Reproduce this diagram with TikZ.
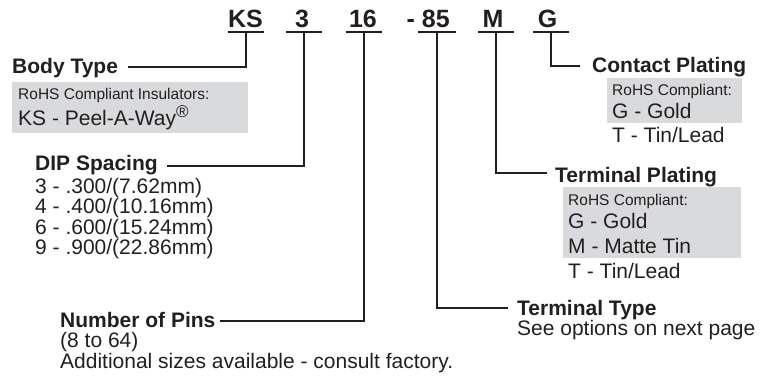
\documentclass[tikz,border=0pt]{standalone}
\usepackage{fontspec}
\setmainfont{Liberation Sans}
\definecolor{ink}{RGB}{35,31,32}
\definecolor{boxgray}{RGB}{217,218,220}
\begin{document}
\begin{tikzpicture}[x=1pt,y=-1pt,
  every node/.style={text=ink},
  conn/.style={draw=ink,line width=1.1pt},
  uline/.style={rectangle,minimum width=35pt,minimum height=0pt,inner sep=0pt,draw=none},
  code/.style={anchor=base,inner sep=0pt,font=\bfseries\fontsize{25}{25}\selectfont},
  lab/.style={anchor=base west,inner sep=0pt,font=\bfseries\fontsize{21}{21}\selectfont},
  txt/.style={anchor=base west,inner sep=0pt,font=\fontsize{21}{21}\selectfont},
  small/.style={anchor=base west,inner sep=0pt,font=\fontsize{15.5}{15.5}\selectfont},
  graybox/.style={fill=boxgray,draw=none}
]
\useasboundingbox (0,0) rectangle (763,378);

% gray boxes
\fill[graybox] (12,82) rectangle (248,133);
\fill[graybox] (607,78) rectangle (742,123);
\fill[graybox] (563,187) rectangle (741,258);

% part number codes
\node[code] (cks) at (245.5,27) {KS};
\node[code] (c3) at (302,27) {3};
\node[code] (c16) at (363,27) {16};
\node[code,anchor=base east] (c85) at (450,27) {- 85};
\node[code] (cm) at (493,27) {M};
\node[code] (cg) at (547.5,27) {G};

% underlines
\node[uline] (uks) at (246,32) {};
\node[uline] (u3) at (304,32) {};
\node[uline] (u16) at (364,32) {};
\node[uline,minimum width=38pt] (u85) at (437,32) {};
\node[uline] (um) at (496,32) {};
\node[uline] (ug) at (551,32) {};
\foreach \u in {uks,u3,u16,u85,um,ug}{\draw[conn] (\u.west) -- (\u.east);}

% connector ends
\coordinate (ebt) at (128,67);
\coordinate (edip) at (167,166);
\coordinate (epins) at (220,321);
\coordinate (ett) at (508,308);
\coordinate (etp) at (547,173);
\coordinate (ecp) at (580,66);

\draw[conn] (uks.center) |- (ebt);
\draw[conn] (u3.center) |- (edip);
\draw[conn] (u16.center) |- (epins);
\draw[conn] (u85.center) |- (ett);
\draw[conn] (um.center) |- (etp);
\draw[conn] (ug.center) |- (ecp);

% Body Type
\node[lab] (bt) at (12,73) {Body Type};
\node[small] (bt1) at (18,99) {RoHS Compliant Insulators:};
\node[txt] (bt2) at (18,125) {KS - Peel-A-Way{\fontsize{17}{17}\selectfont\raisebox{7.5pt}{®}}};

% DIP Spacing
\node[lab] (dip) at (35,170) {DIP Spacing};
\node[txt] (dip1) at (35,193) {3 - .300/(7.62mm)};
\node[txt] (dip2) at (35,213.5) {4 - .400/(10.16mm)};
\node[txt] (dip3) at (35,234) {6 - .600/(15.24mm)};
\node[txt] (dip4) at (35,254.5) {9 - .900/(22.86mm)};

% Number of Pins
\node[lab] (pins) at (60,327) {Number of Pins};
\node[txt] (pins1) at (60,347) {(8 to 64)};
\node[txt] (pins2) at (60,368) {Additional sizes available - consult factory.};

% Terminal Type
\node[lab] (tt) at (517,315) {Terminal Type};
\node[txt] (tt1) at (517,335) {See options on next page};

% Terminal Plating
\node[lab] (tp) at (555,182) {Terminal Plating};
\node[small] (tp1) at (568,205) {RoHS Compliant:};
\node[txt] (tp2) at (568,228) {G - Gold};
\node[txt] (tp3) at (568,253) {M - Matte Tin};
\node[txt] (tp4) at (568,278) {T - Tin/Lead};

% Contact Plating
\node[lab] (cp) at (592,72) {Contact Plating};
\node[small] (cp1) at (612,95) {RoHS Compliant:};
\node[txt] (cp2) at (612,118) {G - Gold};
\node[txt] (cp3) at (612,142) {T - Tin/Lead};
\end{tikzpicture}
\end{document}
